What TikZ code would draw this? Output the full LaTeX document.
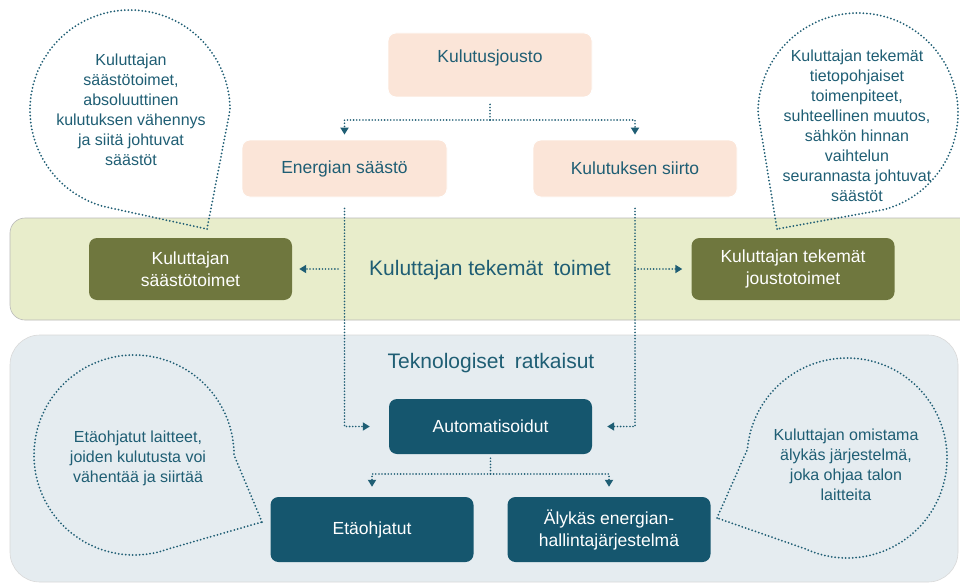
\documentclass[tikz,border=0pt]{standalone}
\usepackage{fontspec}
\setmainfont{Liberation Sans}
\usetikzlibrary{arrows.meta}
\definecolor{tealtext}{HTML}{1F5E74}
\definecolor{peach}{HTML}{FBE5D8}
\definecolor{olive}{HTML}{6F773E}
\definecolor{darkteal}{HTML}{15566E}
\definecolor{greenband}{HTML}{E8EDCB}
\definecolor{blueband}{HTML}{E5ECF0}
\begin{document}
\begin{tikzpicture}[x=1pt,y=-1pt,
  boxbase/.style={rounded corners=8pt, align=center, inner sep=0pt,
    font=\fontsize{17.5}{22}\selectfont},
  peachbox/.style={boxbase, draw=white, line width=0.8pt, fill=peach, text=tealtext},
  olivebox/.style={boxbase, fill=olive, text=white, minimum width=203pt, minimum height=62pt},
  tealbox/.style={boxbase, fill=darkteal, text=white, minimum width=203pt},
  bandtitle/.style={text=tealtext, inner sep=0pt, font=\fontsize{21}{24}\selectfont},
  callout/.style={draw=tealtext, line width=2pt, dash pattern=on 0pt off 3.5pt, line cap=round},
  callouttext/.style={text=tealtext, align=center, inner sep=0pt, font=\fontsize{16}{20}\selectfont},
  conn/.style={draw=tealtext, line width=1.8pt, dash pattern=on 0pt off 3.1pt, line cap=round,
    -{Triangle[length=7pt,width=8pt]}},
  connplain/.style={draw=tealtext, line width=1.8pt, dash pattern=on 0pt off 3.1pt, line cap=round}
]
\clip (0,0) rectangle (960,583);
\fill[white] (0,0) rectangle (960,583);

% bands
\path[fill=greenband, draw=gray!55, line width=0.6pt, rounded corners=15pt]
  (10,218) rectangle (985,320);
\path[fill=blueband, draw=gray!30, line width=0.6pt, rounded corners=30pt]
  (10,335) rectangle (958,582);

% callouts (shapes)
\draw[callout] (207,229) -- (230,110) arc[start angle=0, end angle=-255, radius=100] -- cycle;
\draw[callout] (777,229) -- (758,113) arc[start angle=180, end angle=435, radius=100] -- cycle;
\draw[callout] (262,522) -- (234,455) arc[start angle=0, end angle=-290, radius=100] -- cycle;
\draw[callout] (717,518) -- (747.4,449.3) arc[start angle=185, end angle=475, radius=100] -- cycle;

\node[callouttext] (t1) at (131,110) {Kuluttajan\\säästötoimet,\\absoluuttinen\\kulutuksen vähennys\\ja siitä johtuvat\\säästöt};
\node[callouttext] (t2) at (857,126) {Kuluttajan tekemät\\tietopohjaiset\\toimenpiteet,\\suhteellinen muutos,\\sähkön hinnan\\vaihtelun\\seurannasta johtuvat\\säästöt};
\node[callouttext] (t3) at (138,458) {Etäohjatut laitteet,\\joiden kulutusta voi\\vähentää ja siirtää};
\node[callouttext] (t4) at (846,465) {Kuluttajan omistama\\älykäs järjestelmä,\\joka ohjaa talon\\laitteita};

% top boxes
\node[peachbox, minimum width=204pt, minimum height=64pt, text height=13pt, text depth=17pt] (kj) at (490,65) {Kulutusjousto};
\node[peachbox, minimum width=205pt, minimum height=57pt] (es) at (344.5,168.5) {Energian säästö};
\node[peachbox, minimum width=204pt, minimum height=57pt] (ks) at (635,168.5) {Kulutuksen siirto};

% consumer band
\node[bandtitle] (ktt) at (490,270) {Kuluttajan tekemät\enspace toimet};
\node[olivebox] (kst) at (190.5,269) {Kuluttajan\\säästötoimet};
\node[olivebox] (kjt) at (793,269) {Kuluttajan tekemät\\joustotoimet};

% technology band
\node[bandtitle] (tr) at (491,363) {Teknologiset\enspace ratkaisut};
\node[tealbox, minimum height=55pt] (au) at (490.5,426.5) {Automatisoidut};
\node[tealbox, minimum height=65pt] (et) at (372,529.5) {Etäohjatut};
\node[tealbox, minimum height=65pt] (al) at (609,529.5) {Älykäs energian-\\hallintajärjestelmä};

% connectors
\coordinate (kjsplit) at (490,120);
\draw[connplain, shorten <=7pt] (kj) -- (kjsplit);
\draw[conn, shorten >=5pt] (kjsplit) -| (es.north);
\draw[conn, shorten >=5pt] (kjsplit) -| (ks.north);

\draw[conn, shorten <=11pt, shorten >=19pt] (es.south) |- (au.west);
\draw[conn, shorten <=11pt, shorten >=15pt] (ks.south) |- (au.east);

\draw[conn, shorten <=31pt, shorten >=7pt] (ktt.west |- kst.east) -- (kst.east);
\draw[conn, shorten <=24pt, shorten >=9pt] (ktt.east |- kjt.west) -- (kjt.west);

\coordinate (ausplit) at (490.5,474);
\draw[connplain, shorten <=4pt] (au) -- (ausplit);
\draw[conn, shorten >=10pt] (ausplit) -| (et.north);
\draw[conn, shorten >=10pt] (ausplit) -| (al.north);
\end{tikzpicture}
\end{document}
